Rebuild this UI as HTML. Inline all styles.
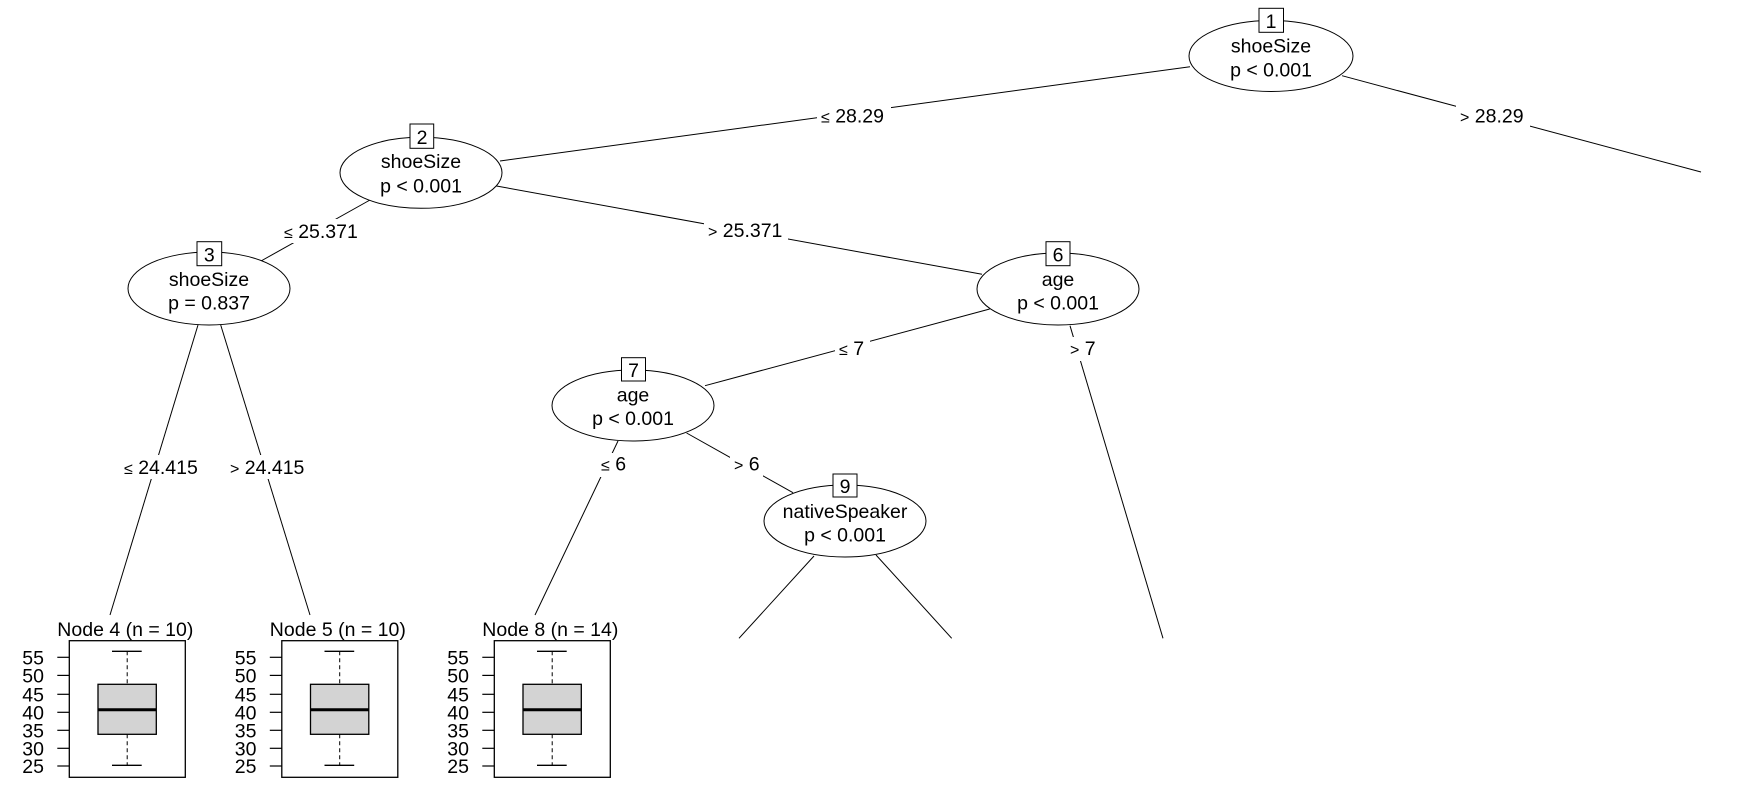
<!DOCTYPE html>
<html><head><meta charset="utf-8"><style>
html,body{margin:0;padding:0;background:#fff;}
svg{display:block;}
text{font-family:"Liberation Sans",Arial,sans-serif;font-size:19.5px;fill:#000;}
</style></head><body>
<svg width="1745" height="806" viewBox="0 0 1745 806" xmlns="http://www.w3.org/2000/svg">
<g stroke="#000" stroke-width="1" fill="none">
<line x1="500" y1="161" x2="1190" y2="66.7"/>
<line x1="1342" y1="75.7" x2="1701" y2="172"/>
<line x1="370" y1="200" x2="261" y2="261"/>
<line x1="496.5" y1="186" x2="982" y2="274.3"/>
<line x1="198" y1="325" x2="110" y2="615"/>
<line x1="220.7" y1="325" x2="310" y2="615"/>
<line x1="989.7" y1="309" x2="705" y2="385.7"/>
<line x1="1070" y1="325.7" x2="1163" y2="638.3"/>
<line x1="618" y1="441" x2="535" y2="615"/>
<line x1="686.6" y1="433" x2="793" y2="492.7"/>
<line x1="814" y1="556" x2="739" y2="638.3"/>
<line x1="876" y1="555" x2="951.7" y2="638.3"/>
</g>
<g fill="#fff">
<rect x="817" y="104" width="74" height="24"/>
<rect x="1456" y="104" width="74" height="24"/>
<rect x="280" y="219" width="82" height="24"/>
<rect x="704" y="219" width="84" height="24"/>
<rect x="120" y="455" width="90" height="24"/>
<rect x="227" y="455" width="86" height="24"/>
<rect x="835" y="337" width="35" height="24"/>
<rect x="1066" y="337" width="34" height="24"/>
<rect x="597" y="453" width="35" height="24"/>
<rect x="730" y="453" width="33" height="24"/>
</g>
<text x="821" y="122.7"><tspan font-size="16">≤</tspan> 28.29</text>
<text x="1460" y="122.7"><tspan font-size="16">&gt;</tspan> 28.29</text>
<text x="284" y="238"><tspan font-size="16">≤</tspan> 25.371</text>
<text x="708" y="237"><tspan font-size="16">&gt;</tspan> 25.371</text>
<text x="124" y="474"><tspan font-size="16">≤</tspan> 24.415</text>
<text x="230" y="474"><tspan font-size="16">&gt;</tspan> 24.415</text>
<text x="839" y="355"><tspan font-size="16">≤</tspan> 7</text>
<text x="1070" y="355"><tspan font-size="16">&gt;</tspan> 7</text>
<text x="601" y="470.7"><tspan font-size="16">≤</tspan> 6</text>
<text x="734" y="470.7"><tspan font-size="16">&gt;</tspan> 6</text>
<g stroke="#000" stroke-width="1" fill="#fff">
<ellipse cx="1271" cy="56" rx="82" ry="35.5"/>
<ellipse cx="421" cy="172.8" rx="81" ry="35.5"/>
<ellipse cx="209" cy="288.5" rx="81" ry="36.5"/>
<ellipse cx="1058" cy="289" rx="81" ry="36"/>
<ellipse cx="633" cy="405.5" rx="81" ry="35.5"/>
<ellipse cx="845" cy="521" rx="81" ry="36"/>
<rect x="1259" y="8.3" width="24.5" height="24"/>
<rect x="410" y="124" width="23.7" height="24.3"/>
<rect x="197" y="241.7" width="24.7" height="24"/>
<rect x="1046" y="241.7" width="24" height="24"/>
<rect x="621.5" y="357.7" width="24" height="23.3"/>
<rect x="833" y="474" width="24" height="23"/>
</g>
<g text-anchor="middle">
<text x="1271" y="28">1</text><text x="1271" y="52.7">shoeSize</text><text x="1271" y="76.7">p &lt; 0.001</text>
<text x="422" y="144">2</text><text x="421" y="168">shoeSize</text><text x="421" y="192.7">p &lt; 0.001</text>
<text x="209.3" y="261.5">3</text><text x="209" y="286">shoeSize</text><text x="209" y="309.3">p = 0.837</text>
<text x="1058" y="261.5">6</text><text x="1058" y="286">age</text><text x="1058" y="309.5">p &lt; 0.001</text>
<text x="633.5" y="377">7</text><text x="633" y="401.7">age</text><text x="633" y="425">p &lt; 0.001</text>
<text x="845" y="493">9</text><text x="845" y="518">nativeSpeaker</text><text x="845" y="541.7">p &lt; 0.001</text>
</g>
<g>
<text x="57.3" y="636">Node 4 (n = 10)</text>
<text x="269.8" y="636">Node 5 (n = 10)</text>
<text x="482.3" y="636">Node 8 (n = 14)</text>
</g>
<g>
<rect x="69.3" y="640.7" width="116" height="136.6" fill="#fff" stroke="#000" stroke-width="1.3"/>
<rect x="98" y="684.3" width="58.3" height="50" fill="#d3d3d3" stroke="#000" stroke-width="1.3"/>
<line x1="98" y1="709.7" x2="156.3" y2="709.7" stroke="#000" stroke-width="3"/>
<line x1="127.2" y1="651.3" x2="127.2" y2="684.3" stroke="#000" stroke-dasharray="4,3"/>
<line x1="127.2" y1="734.3" x2="127.2" y2="765.3" stroke="#000" stroke-dasharray="4,3"/>
<line x1="112" y1="651.3" x2="141.7" y2="651.3" stroke="#000" stroke-width="1.3"/>
<line x1="112" y1="765.3" x2="141.7" y2="765.3" stroke="#000" stroke-width="1.3"/>
<g stroke="#000" stroke-width="1.2">
<line x1="57.3" y1="657.3" x2="69.3" y2="657.3"/><line x1="57.3" y1="675.4" x2="69.3" y2="675.4"/>
<line x1="57.3" y1="694.3" x2="69.3" y2="694.3"/><line x1="57.3" y1="712.3" x2="69.3" y2="712.3"/>
<line x1="57.3" y1="730.3" x2="69.3" y2="730.3"/><line x1="57.3" y1="748.3" x2="69.3" y2="748.3"/>
<line x1="57.3" y1="766" x2="69.3" y2="766"/>
</g>
<g text-anchor="end">
<text x="44" y="664.3">55</text><text x="44" y="682.4">50</text><text x="44" y="701.3">45</text>
<text x="44" y="719.3">40</text><text x="44" y="737.3">35</text><text x="44" y="755.3">30</text>
<text x="44" y="773">25</text>
</g>
</g>
<g transform="translate(212.5,0)">
<rect x="69.3" y="640.7" width="116" height="136.6" fill="#fff" stroke="#000" stroke-width="1.3"/>
<rect x="98" y="684.3" width="58.3" height="50" fill="#d3d3d3" stroke="#000" stroke-width="1.3"/>
<line x1="98" y1="709.7" x2="156.3" y2="709.7" stroke="#000" stroke-width="3"/>
<line x1="127.2" y1="651.3" x2="127.2" y2="684.3" stroke="#000" stroke-dasharray="4,3"/>
<line x1="127.2" y1="734.3" x2="127.2" y2="765.3" stroke="#000" stroke-dasharray="4,3"/>
<line x1="112" y1="651.3" x2="141.7" y2="651.3" stroke="#000" stroke-width="1.3"/>
<line x1="112" y1="765.3" x2="141.7" y2="765.3" stroke="#000" stroke-width="1.3"/>
<g stroke="#000" stroke-width="1.2">
<line x1="57.3" y1="657.3" x2="69.3" y2="657.3"/><line x1="57.3" y1="675.4" x2="69.3" y2="675.4"/>
<line x1="57.3" y1="694.3" x2="69.3" y2="694.3"/><line x1="57.3" y1="712.3" x2="69.3" y2="712.3"/>
<line x1="57.3" y1="730.3" x2="69.3" y2="730.3"/><line x1="57.3" y1="748.3" x2="69.3" y2="748.3"/>
<line x1="57.3" y1="766" x2="69.3" y2="766"/>
</g>
<g text-anchor="end">
<text x="44" y="664.3">55</text><text x="44" y="682.4">50</text><text x="44" y="701.3">45</text>
<text x="44" y="719.3">40</text><text x="44" y="737.3">35</text><text x="44" y="755.3">30</text>
<text x="44" y="773">25</text>
</g>
</g>
<g transform="translate(425,0)">
<rect x="69.3" y="640.7" width="116" height="136.6" fill="#fff" stroke="#000" stroke-width="1.3"/>
<rect x="98" y="684.3" width="58.3" height="50" fill="#d3d3d3" stroke="#000" stroke-width="1.3"/>
<line x1="98" y1="709.7" x2="156.3" y2="709.7" stroke="#000" stroke-width="3"/>
<line x1="127.2" y1="651.3" x2="127.2" y2="684.3" stroke="#000" stroke-dasharray="4,3"/>
<line x1="127.2" y1="734.3" x2="127.2" y2="765.3" stroke="#000" stroke-dasharray="4,3"/>
<line x1="112" y1="651.3" x2="141.7" y2="651.3" stroke="#000" stroke-width="1.3"/>
<line x1="112" y1="765.3" x2="141.7" y2="765.3" stroke="#000" stroke-width="1.3"/>
<g stroke="#000" stroke-width="1.2">
<line x1="57.3" y1="657.3" x2="69.3" y2="657.3"/><line x1="57.3" y1="675.4" x2="69.3" y2="675.4"/>
<line x1="57.3" y1="694.3" x2="69.3" y2="694.3"/><line x1="57.3" y1="712.3" x2="69.3" y2="712.3"/>
<line x1="57.3" y1="730.3" x2="69.3" y2="730.3"/><line x1="57.3" y1="748.3" x2="69.3" y2="748.3"/>
<line x1="57.3" y1="766" x2="69.3" y2="766"/>
</g>
<g text-anchor="end">
<text x="44" y="664.3">55</text><text x="44" y="682.4">50</text><text x="44" y="701.3">45</text>
<text x="44" y="719.3">40</text><text x="44" y="737.3">35</text><text x="44" y="755.3">30</text>
<text x="44" y="773">25</text>
</g>
</g>
</svg>
</body></html>
